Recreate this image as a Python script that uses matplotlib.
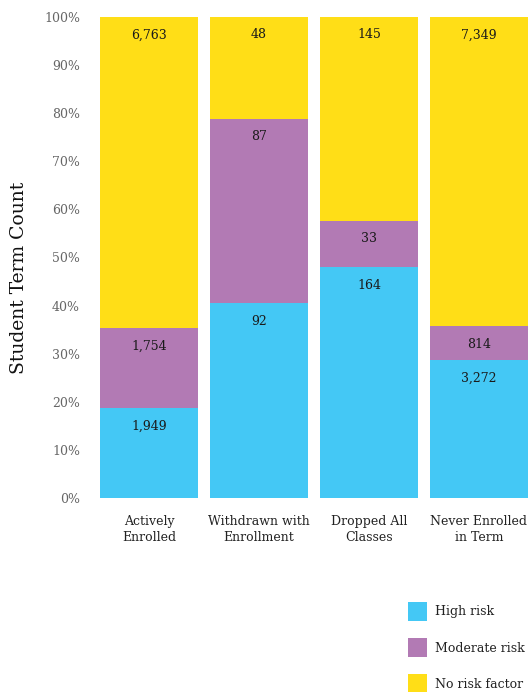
import matplotlib
matplotlib.use("Agg")
import matplotlib.pyplot as plt
from matplotlib.patches import Rectangle
import numpy as np

categories = ["Actively\nEnrolled", "Withdrawn with\nEnrollment", "Dropped All\nClasses", "Never Enrolled\nin Term"]
series_names = ["High risk", "Moderate risk", "No risk factor"]
high_risk = [1949, 92, 164, 3272]
moderate_risk = [1754, 87, 33, 814]
no_risk = [6763, 48, 145, 7349]
colors = ["#44C8F5", "#B27AB4", "#FFDE17"]
y_ticks = [0, 10, 20, 30, 40, 50, 60, 70, 80, 90, 100]

plt.rcParams['font.family'] = ['DejaVu Serif']

fig = plt.figure(figsize=(5.28, 6.92), dpi=100)
ax = fig.add_axes([94/528, 1-498/692, 1-94/528, (498-17)/692])

series = [high_risk, moderate_risk, no_risk]
totals = np.sum(np.array(series, dtype=float), axis=0)
x = np.arange(len(categories))
bottom = np.zeros(len(categories))
for vals, col in zip(series, colors):
    pct = np.array(vals) / totals * 100
    ax.bar(x, pct, bottom=bottom, width=98/110, color=col, edgecolor="none")
    for xi, b, p, v in zip(x, bottom, pct, vals):
        ax.annotate(f"{v:,}", xy=(xi, b + p), xytext=(0, -18), textcoords="offset pixels",
                    ha="center", va="center", fontsize=9, color="#1a1a1a")
    bottom += pct

ax.set_xlim(-0.5, -0.5 + (528-94)/110)
ax.set_ylim(0, 100)
ax.set_yticks(y_ticks)
ax.set_yticklabels([f"{t}%" for t in y_ticks], fontsize=9, color="#666666")
ax.set_xticks(x)
ax.set_xticklabels(categories, fontsize=9, color="#222222", linespacing=1.35)
ax.tick_params(length=0, pad=10)
ax.tick_params(axis="x", pad=12)
for s in ax.spines.values():
    s.set_visible(False)
ax.set_ylabel("Student Term Count", fontsize=13.5, color="#111111")
ax.yaxis.set_label_coords((28-94)/434, (498-278)/481)

# legend
for i, (name, col) in enumerate(zip(series_names, colors)):
    cy = 612 + 36 * i
    fig.patches.append(Rectangle((408/528, 1-(cy+9)/692), 19/528, 19/692,
                                 transform=fig.transFigure, facecolor=col, edgecolor="none"))
    fig.text(435/528, 1-cy/692, name, fontsize=9, va="center", ha="left", color="#222222")

fig.savefig("out.png", dpi=100)
